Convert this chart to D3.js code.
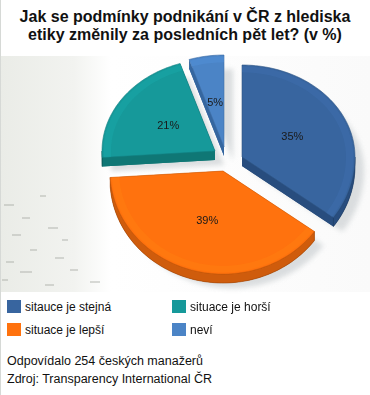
<!DOCTYPE html>
<html>
<head>
<meta charset="utf-8">
<script src="https://cdn.jsdelivr.net/npm/d3@7"></script>
<style>
  body { margin: 0; background: #fff; }
  text { font-family: Arial, "Liberation Sans", sans-serif; }
</style>
</head>
<body>
<svg id="chart" width="370" height="395"></svg>
<script>
// data
const categories = ["situace je stejná", "situace je lepší", "situace je horší", "neví"];
const values = [35, 39, 21, 5];
const legendLabels = ["sitauce je stejná", "situace je lepší", "situace je horší", "neví"];
const titleLines = ["Jak se podmínky podnikání v ČR z hlediska", "etiky změnily za posledních pět let? (v %)"];
const footLines = ["Odpovídalo 254 českých manažerů", "Zdroj: Transparency International ČR"];

const topColors = ["#38659f", "#ff720e", "#16999a", "#4b84c6"];
const sideColors = ["#284d7e", "#cf5c0c", "#0f7775", "#35669f"];

const W = 370, H = 395;
const svg = d3.select("#chart");

// background
const defs = svg.append("defs");
const bg = defs.append("linearGradient").attr("id", "bgGrad").attr("x1", 0).attr("x2", 1).attr("y1", 0).attr("y2", 0);
bg.append("stop").attr("offset", "0%").attr("stop-color", "#eaece7");
bg.append("stop").attr("offset", "20%").attr("stop-color", "#f2f3f0");
bg.append("stop").attr("offset", "30%").attr("stop-color", "#ffffff");
bg.append("stop").attr("offset", "100%").attr("stop-color", "#fafafa");
const blur = defs.append("filter").attr("id", "soft").attr("x", "-20%").attr("y", "-20%").attr("width", "140%").attr("height", "140%");
blur.append("feGaussianBlur").attr("stdDeviation", 2.5);

svg.append("rect").attr("width", W).attr("height", H).attr("fill", "#ffffff");
svg.append("rect").attr("x", 0).attr("y", 56).attr("width", W).attr("height", 236).attr("fill", "url(#bgGrad)");
svg.append("rect").attr("x", 0).attr("y", 0).attr("width", 1).attr("height", H).attr("fill", "#d6d9d6");

// faint texture dashes in the lower left of the backdrop
const dashes = [[4, 205, 10], [22, 218, 8], [40, 196, 6], [12, 235, 9], [48, 228, 10], [30, 250, 7],
  [6, 262, 8], [55, 258, 9], [20, 272, 12], [70, 270, 8], [90, 282, 10], [45, 285, 9], [2, 280, 6], [62, 240, 6]];
svg.append("g").selectAll("line").data(dashes).join("line")
  .attr("x1", d => d[0]).attr("x2", d => d[0] + d[2])
  .attr("y1", d => d[1]).attr("y2", d => d[1])
  .attr("stroke", "#a9aca6").attr("stroke-width", 1.2).attr("opacity", 0.7);

// title
svg.append("g").selectAll("text").data(titleLines).join("text")
  .attr("x", 185).attr("y", (d, i) => 22 + i * 18)
  .attr("text-anchor", "middle")
  .attr("font-size", 16).attr("font-weight", "bold").attr("fill", "#111")
  .text(d => d);

// pie geometry (perspective-ish ellipse: top half flatter than bottom half)
const cx = 226, cy = 157, rx = 113, ryUp = 92, ryDn = 103, depth = 9;
const explode = [[16, 0], [-3, 14], [-11, -6], [-2, -10]];

const pie = d3.pie().sort(null).value(d => d)(values);

function pt(a, ox, oy, f = 1) {
  const c = Math.cos(a);
  return [ox + rx * f * Math.sin(a), oy - (c > 0 ? ryUp : ryDn) * f * c];
}
function arcPts(a0, a1, ox, oy, dy = 0, f = 1) {
  const n = Math.max(2, Math.ceil((a1 - a0) / 0.03));
  return d3.range(n + 1).map(i => {
    const p = pt(a0 + (a1 - a0) * i / n, ox, oy, f);
    return [p[0], p[1] + dy];
  });
}
const line = d3.line();

const slices = pie.map((p, i) => ({
  ...p, i,
  ox: cx + explode[i][0], oy: cy + explode[i][1]
}));

// shadow
const shadow = svg.append("g").attr("filter", "url(#soft)").attr("opacity", 0.75);
slices.forEach(s => {
  const pts = [[s.ox, s.oy]].concat(arcPts(s.startAngle, s.endAngle, s.ox, s.oy));
  shadow.append("path")
    .attr("d", line(pts) + "Z")
    .attr("transform", "translate(9,14)")
    .attr("fill", "#cfd3d5");
});

const order = slices.slice().sort((a, b) => a.oy - b.oy);
const gPie = svg.append("g");

order.forEach(s => {
  const g = gPie.append("g");
  const side = sideColors[s.i];
  const apex = [s.ox, s.oy];
  // bottom face
  const bottom = [[s.ox, s.oy + depth]].concat(arcPts(s.startAngle, s.endAngle, s.ox, s.oy, depth));
  g.append("path").attr("d", line(bottom) + "Z").attr("fill", side);
  // cut faces
  [s.startAngle, s.endAngle].forEach(a => {
    const o = pt(a, s.ox, s.oy);
    g.append("path")
      .attr("d", line([apex, o, [o[0], o[1] + depth], [apex[0], apex[1] + depth]]) + "Z")
      .attr("fill", side);
  });
  // outer wall where it faces the viewer
  const a0 = Math.max(s.startAngle, Math.PI / 2), a1 = Math.min(s.endAngle, 3 * Math.PI / 2);
  if (a1 > a0) {
    const topA = arcPts(a0, a1, s.ox, s.oy);
    const botA = arcPts(a0, a1, s.ox, s.oy, depth).reverse();
    g.append("path").attr("d", line(topA.concat(botA)) + "Z")
      .attr("fill", side).attr("stroke", d3.color(side).darker(0.8)).attr("stroke-width", 0.6);
  }
  // top face
  const top = [apex].concat(arcPts(s.startAngle, s.endAngle, s.ox, s.oy));
  g.append("path").attr("d", line(top) + "Z")
    .attr("fill", topColors[s.i])
    .attr("stroke", d3.color(topColors[s.i]).darker(0.5)).attr("stroke-width", 0.6);
  // subtle bevel band along the rim
  const rimO = arcPts(s.startAngle, s.endAngle, s.ox, s.oy, 0, 0.985);
  const rimI = arcPts(s.startAngle, s.endAngle, s.ox, s.oy, 0, 0.92).reverse();
  g.append("path").attr("d", line(rimO.concat(rimI)) + "Z")
    .attr("fill", d3.color(topColors[s.i]).brighter(0.25)).attr("opacity", 0.5);
  // label
  const mid = (s.startAngle + s.endAngle) / 2;
  const lp = pt(mid, s.ox, s.oy, 0.5);
  g.append("text")
    .attr("x", lp[0]).attr("y", lp[1] + 4)
    .attr("text-anchor", "middle")
    .attr("font-size", 11).attr("fill", "#1a1a1a")
    .text(d3.format("d")(s.data) + "%");
});

// legend
const legend = svg.append("g");
legendLabels.forEach((d, i) => {
  const col = i < 2 ? 0 : 1, row = i % 2;
  const lg = legend.append("g").attr("transform", `translate(${7 + col * 165},${300 + row * 23})`);
  lg.append("rect").attr("width", 14).attr("height", 13).attr("fill", topColors[i]);
  lg.append("text").attr("x", 18).attr("y", 11).attr("font-size", 12).attr("fill", "#111").text(d);
});

// footer
svg.append("g").selectAll("text").data(footLines).join("text")
  .attr("x", 7).attr("y", (d, i) => 365 + i * 18)
  .attr("font-size", 12.5).attr("fill", "#111")
  .text(d => d);
</script>
</body>
</html>
